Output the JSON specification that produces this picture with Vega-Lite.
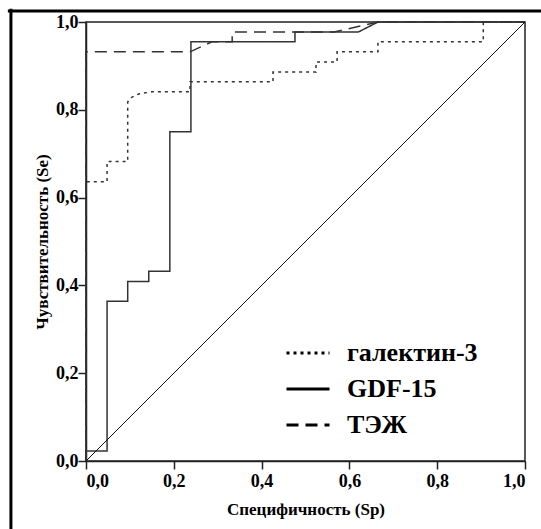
{
  "$schema": "https://vega.github.io/schema/vega-lite/v6.json",
  "width": 439,
  "height": 439,
  "autosize": {"type": "none"},
  "padding": {"left": 86, "top": 22, "right": 16, "bottom": 68},
  "background": "white",
  "config": {
    "view": {"stroke": "#222", "strokeWidth": 1.5},
    "axis": {
      "labelFont": "Liberation Serif",
      "labelFontWeight": "bold",
      "labelFontSize": 18,
      "labelColor": "black",
      "titleFont": "Liberation Serif",
      "titleFontWeight": "bold",
      "titleFontSize": 17,
      "titleColor": "black",
      "domainColor": "#222",
      "domainWidth": 1.5,
      "tickColor": "#222",
      "tickWidth": 1.5,
      "tickSize": 8,
      "grid": false
    }
  },
  "layer": [
    {
      "data": {
        "values": [
          {"series": "галектин-3", "i": 1, "sp": 0, "se": 0},
          {"series": "галектин-3", "i": 2, "sp": 0, "se": 0.636},
          {"series": "галектин-3", "i": 3, "sp": 0.048, "se": 0.636},
          {"series": "галектин-3", "i": 4, "sp": 0.048, "se": 0.682},
          {"series": "галектин-3", "i": 5, "sp": 0.095, "se": 0.682},
          {"series": "галектин-3", "i": 6, "sp": 0.095, "se": 0.818},
          {"series": "галектин-3", "i": 7, "sp": 0.105, "se": 0.829},
          {"series": "галектин-3", "i": 8, "sp": 0.12, "se": 0.836},
          {"series": "галектин-3", "i": 9, "sp": 0.15, "se": 0.841},
          {"series": "галектин-3", "i": 10, "sp": 0.237, "se": 0.841},
          {"series": "галектин-3", "i": 11, "sp": 0.237, "se": 0.864},
          {"series": "галектин-3", "i": 12, "sp": 0.426, "se": 0.864},
          {"series": "галектин-3", "i": 13, "sp": 0.426, "se": 0.886},
          {"series": "галектин-3", "i": 14, "sp": 0.524, "se": 0.886},
          {"series": "галектин-3", "i": 15, "sp": 0.524, "se": 0.909},
          {"series": "галектин-3", "i": 16, "sp": 0.572, "se": 0.909},
          {"series": "галектин-3", "i": 17, "sp": 0.572, "se": 0.932},
          {"series": "галектин-3", "i": 18, "sp": 0.665, "se": 0.932},
          {"series": "галектин-3", "i": 19, "sp": 0.665, "se": 0.955},
          {"series": "галектин-3", "i": 20, "sp": 0.905, "se": 0.955},
          {"series": "галектин-3", "i": 21, "sp": 0.905, "se": 1},
          {"series": "галектин-3", "i": 22, "sp": 1, "se": 1},
          {"series": "GDF-15", "i": 1, "sp": 0, "se": 0},
          {"series": "GDF-15", "i": 2, "sp": 0, "se": 0.023},
          {"series": "GDF-15", "i": 3, "sp": 0.048, "se": 0.023},
          {"series": "GDF-15", "i": 4, "sp": 0.048, "se": 0.364},
          {"series": "GDF-15", "i": 5, "sp": 0.095, "se": 0.364},
          {"series": "GDF-15", "i": 6, "sp": 0.095, "se": 0.409},
          {"series": "GDF-15", "i": 7, "sp": 0.143, "se": 0.409},
          {"series": "GDF-15", "i": 8, "sp": 0.143, "se": 0.432},
          {"series": "GDF-15", "i": 9, "sp": 0.191, "se": 0.432},
          {"series": "GDF-15", "i": 10, "sp": 0.191, "se": 0.75},
          {"series": "GDF-15", "i": 11, "sp": 0.239, "se": 0.75},
          {"series": "GDF-15", "i": 12, "sp": 0.239, "se": 0.955},
          {"series": "GDF-15", "i": 13, "sp": 0.476, "se": 0.955},
          {"series": "GDF-15", "i": 14, "sp": 0.476, "se": 0.977},
          {"series": "GDF-15", "i": 15, "sp": 0.62, "se": 0.977},
          {"series": "GDF-15", "i": 16, "sp": 0.665, "se": 1},
          {"series": "GDF-15", "i": 17, "sp": 1, "se": 1},
          {"series": "ТЭЖ", "i": 1, "sp": 0, "se": 0},
          {"series": "ТЭЖ", "i": 2, "sp": 0, "se": 0.932},
          {"series": "ТЭЖ", "i": 3, "sp": 0.237, "se": 0.932},
          {"series": "ТЭЖ", "i": 4, "sp": 0.287, "se": 0.955},
          {"series": "ТЭЖ", "i": 5, "sp": 0.333, "se": 0.955},
          {"series": "ТЭЖ", "i": 6, "sp": 0.333, "se": 0.977},
          {"series": "ТЭЖ", "i": 7, "sp": 0.565, "se": 0.977},
          {"series": "ТЭЖ", "i": 8, "sp": 0.665, "se": 1},
          {"series": "ТЭЖ", "i": 9, "sp": 1, "se": 1}
        ]
      },
      "mark": {"type": "line", "strokeWidth": 1.5, "color": "#333"},
      "encoding": {
        "x": {
          "field": "sp", "type": "quantitative",
          "scale": {"domain": [0, 1], "nice": false},
          "axis": {"title": "Специфичность (Sp)", "values": [0, 0.2, 0.4, 0.6, 0.8, 1], "format": ".1f", "labelExpr": "replace(datum.label, '.', ',')", "labelPadding": 3, "titlePadding": 11}
        },
        "y": {
          "field": "se", "type": "quantitative",
          "scale": {"domain": [0, 1], "nice": false},
          "axis": {"title": "Чувствительность (Se)", "values": [0, 0.2, 0.4, 0.6, 0.8, 1], "format": ".1f", "labelExpr": "replace(datum.label, '.', ',')", "labelPadding": 0, "titlePadding": 4}
        },
        "strokeDash": {
          "field": "series", "type": "nominal",
          "scale": {"domain": ["галектин-3", "GDF-15", "ТЭЖ"], "range": [[3, 4], [1, 0], [12, 7]]},
          "legend": {
            "title": null,
            "orient": "none",
            "direction": "vertical",
            "legendX": 199,
            "legendY": 308,
            "padding": 0,
            "labelFont": "Liberation Serif",
            "labelFontWeight": "bold",
            "labelFontSize": 26,
            "labelColor": "black",
            "labelBaseline": "middle",
            "symbolType": "stroke",
            "symbolStrokeColor": "black",
            "symbolStrokeWidth": 3,
            "symbolSize": 900,
            "labelOffset": 16,
            "rowPadding": -8,
            "encode": {"symbols": {"update": {"size": {"value": 1849}}}}
          }
        },
        "order": {"field": "i", "type": "quantitative"}
      }
    },
    {
      "data": {"values": [{"sp": 0, "se": 0}, {"sp": 1, "se": 1}]},
      "mark": {"type": "line", "color": "#111", "strokeWidth": 1},
      "encoding": {
        "x": {"field": "sp", "type": "quantitative", "scale": {"domain": [0, 1], "nice": false}},
        "y": {"field": "se", "type": "quantitative", "scale": {"domain": [0, 1], "nice": false}}
      }
    },
    {
      "data": {"values": [
        {"sp": -0.178, "sp2": 1.2, "se": 1.025, "se2": 1.025},
        {"sp": -0.171, "sp2": -0.171, "se": 1.03, "se2": -0.3}
      ]},
      "mark": {"type": "rule", "color": "black", "strokeWidth": 3, "clip": false},
      "encoding": {
        "x": {"field": "sp", "type": "quantitative", "scale": {"domain": [0, 1], "nice": false}},
        "x2": {"field": "sp2"},
        "y": {"field": "se", "type": "quantitative", "scale": {"domain": [0, 1], "nice": false}},
        "y2": {"field": "se2"}
      }
    }
  ]
}
